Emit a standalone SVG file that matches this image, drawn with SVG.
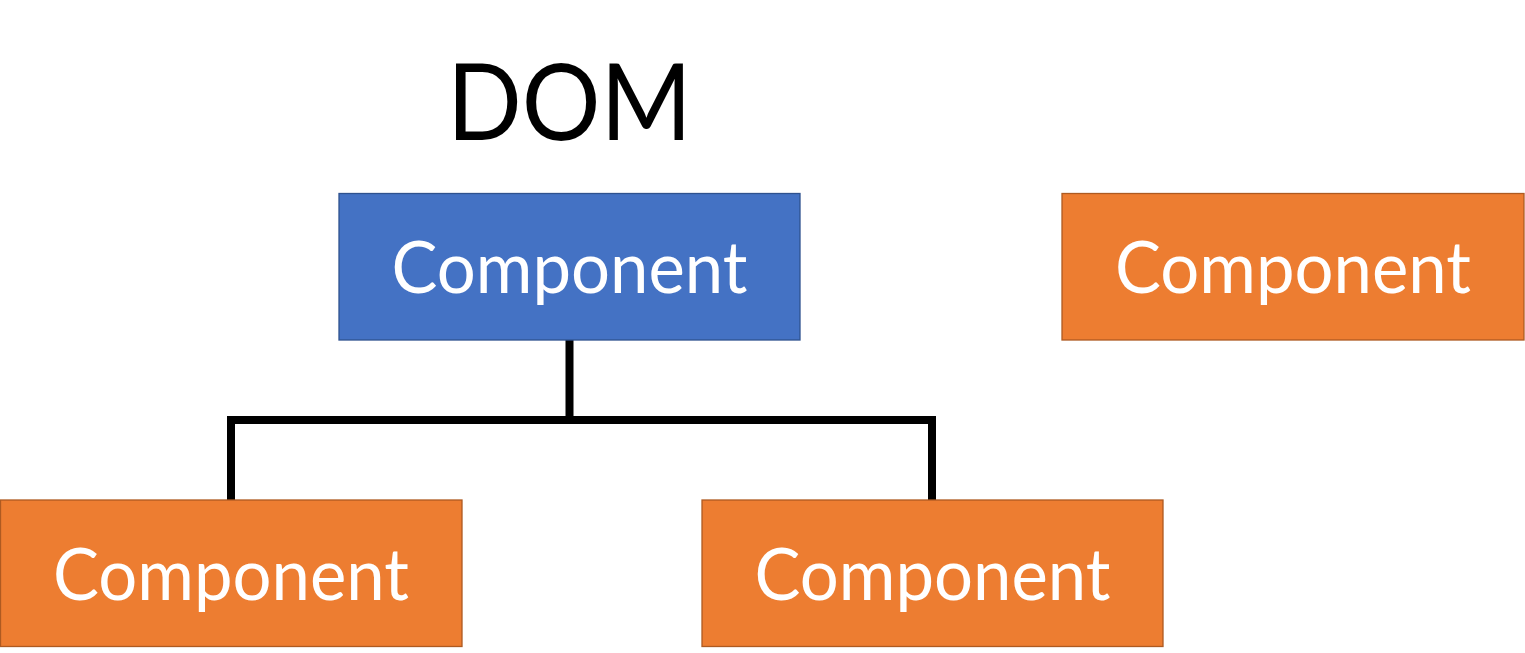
<svg xmlns="http://www.w3.org/2000/svg" width="1525" height="653" viewBox="0 0 1525 653">
<style>
.blue{fill:#4472C4;stroke:#2F528F;stroke-width:1.3}
.orange{fill:#ED7D31;stroke:#AE5A21;stroke-width:1.3}
.lbl{font-family:Lato,"Open Sans","Liberation Sans",sans-serif;font-size:72px;fill:#fff;text-anchor:middle}
.title{font-family:Lato,"Open Sans","Liberation Sans",sans-serif;font-size:106px;fill:#000;text-anchor:middle}
.conn{fill:none;stroke:#000;stroke-width:8}
</style>
<rect width="1525" height="653" fill="#fff"/>
<text class="title" x="569.5" y="140" textLength="245" lengthAdjust="spacingAndGlyphs">DOM</text>
<g id="connectors">
<path class="conn" d="M569.5 340 V420 M231 500 V420 H932 V500"/>
</g>
<g id="root">
<rect class="blue" x="339" y="193.5" width="461" height="146.5"/>
<text class="lbl" x="569.5" y="293" textLength="356" lengthAdjust="spacingAndGlyphs">Component</text>
</g>
<g id="standalone">
<rect class="orange" x="1062" y="193.5" width="462" height="146.5"/>
<text class="lbl" x="1293" y="293" textLength="356" lengthAdjust="spacingAndGlyphs">Component</text>
</g>
<g id="child-left">
<rect class="orange" x="0.5" y="500" width="461.5" height="146.5"/>
<text class="lbl" x="231" y="600" textLength="356" lengthAdjust="spacingAndGlyphs">Component</text>
</g>
<g id="child-right">
<rect class="orange" x="702" y="500" width="461" height="146.5"/>
<text class="lbl" x="932.5" y="600" textLength="356" lengthAdjust="spacingAndGlyphs">Component</text>
</g>
</svg>
